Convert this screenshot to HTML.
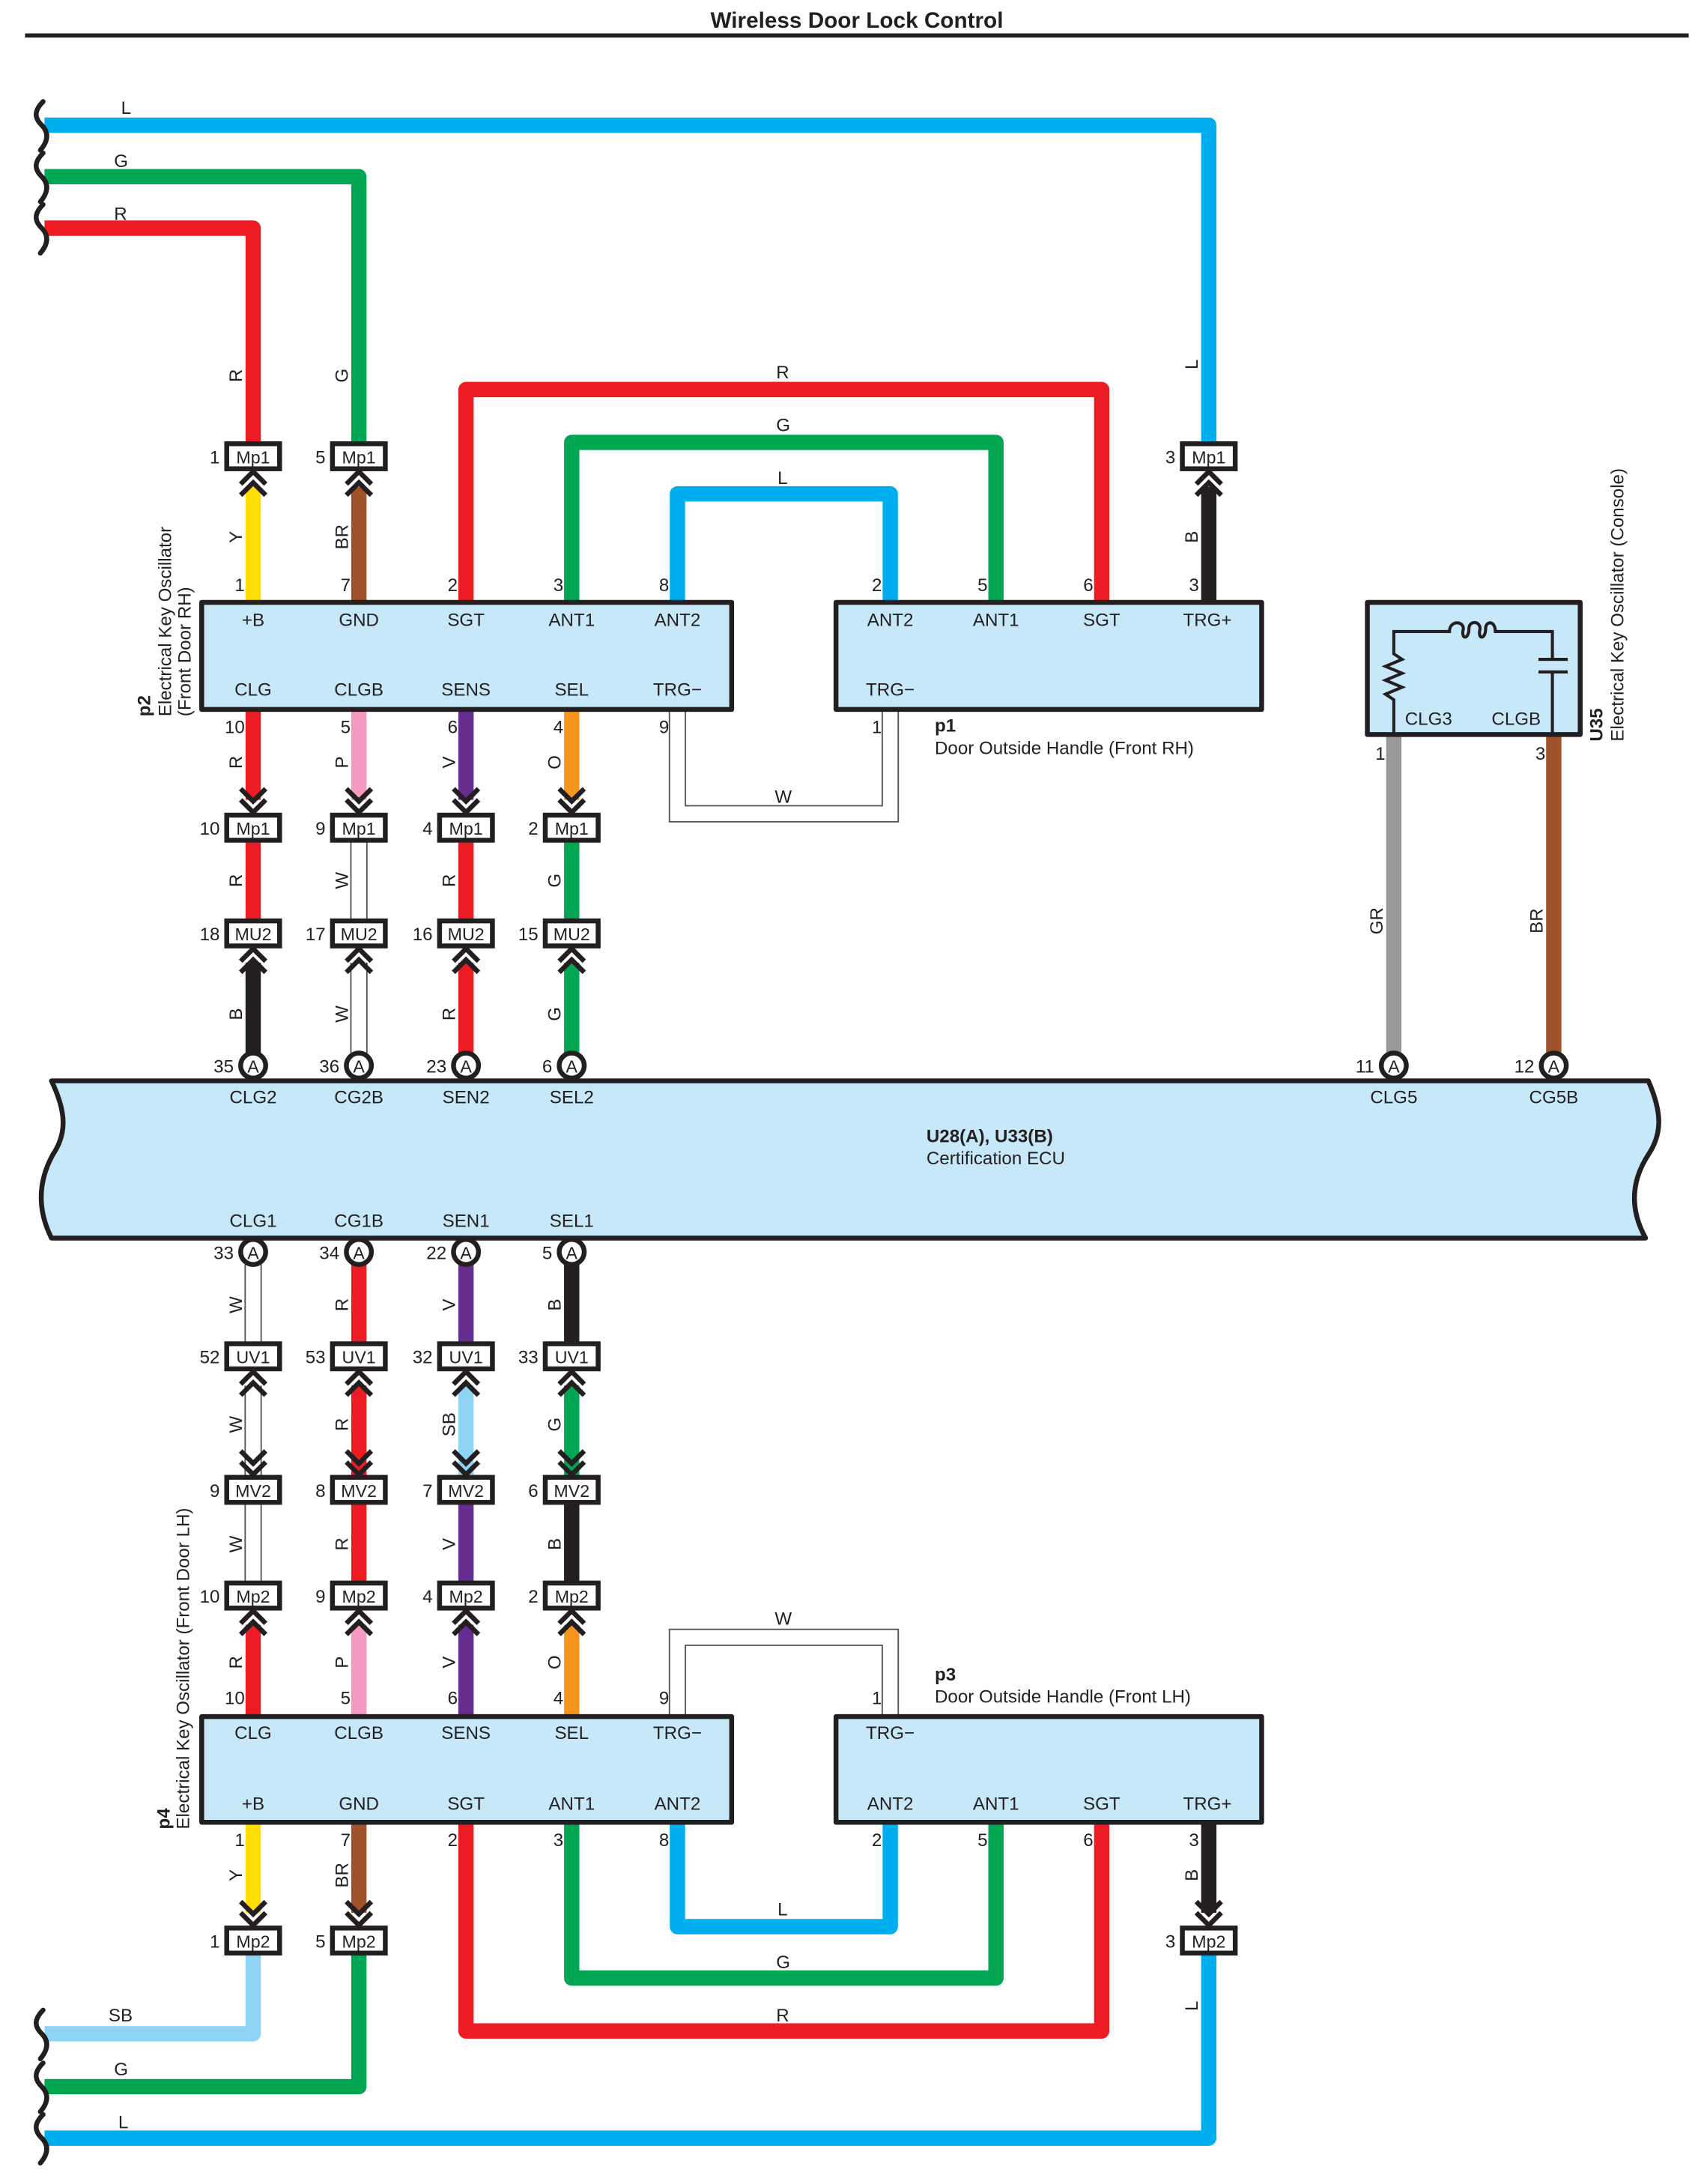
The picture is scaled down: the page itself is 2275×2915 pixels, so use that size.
<!DOCTYPE html>
<html><head><meta charset="utf-8"><style>
html,body{margin:0;padding:0;background:#fff}
svg{display:block}
text{font-family:"Liberation Sans",sans-serif;fill:#231f20}
</style></head><body>
<svg width="2275" height="2915" viewBox="0 0 1225 1570" preserveAspectRatio="none" xmlns="http://www.w3.org/2000/svg">
<defs>
<g id="cu"><path d="M-9,9 L0,0 L9,9 M-9,17 L0,8 L9,17" fill="none" stroke="#231f20" stroke-width="3.5"/></g>
<g id="cd"><path d="M-9,-9 L0,0 L9,-9 M-9,-17 L0,-8 L9,-17" fill="none" stroke="#231f20" stroke-width="3.5"/></g>
<g id="wv"><path d="M31,-17 C24,-10 25,-5 30,0 C35,5 35,11 29,18" fill="none" stroke="#231f20" stroke-width="3.5" stroke-linecap="round"/></g>
</defs>
<text x="616" y="20" font-size="16" font-weight="bold" text-anchor="middle">Wireless Door Lock Control</text>
<rect x="18" y="24" width="1196" height="3" fill="#231f20"/>

<g fill="none" stroke-width="11" stroke-linejoin="round">
<!-- top feeds -->
<path d="M32,90 H869 V320" stroke="#00aeef"/>
<path d="M32,127 H258 V320" stroke="#00a651"/>
<path d="M32,164 H182 V320" stroke="#ed1c24"/>
<path d="M182,350 V433" stroke="#ffde00"/>
<path d="M258,350 V433" stroke="#a0522d"/>
<path d="M869,350 V433" stroke="#231f20"/>
<!-- top loops -->
<path d="M335,433 V280 H792 V433" stroke="#ed1c24"/>
<path d="M411,433 V318 H716 V433" stroke="#00a651"/>
<path d="M487,433 V355 H640 V433" stroke="#00aeef"/>
<!-- p2 bottom -->
<path d="M182,510 V575" stroke="#ed1c24"/>
<path d="M258,510 V575" stroke="#f49ac1"/>
<path d="M335,510 V575" stroke="#662d91"/>
<path d="M411,510 V575" stroke="#f7941d"/>
<path d="M182,604 V662" stroke="#ed1c24"/>
<path d="M335,604 V662" stroke="#ed1c24"/>
<path d="M411,604 V662" stroke="#00a651"/>
<path d="M182,692 V757" stroke="#231f20"/>
<path d="M335,692 V757" stroke="#ed1c24"/>
<path d="M411,692 V757" stroke="#00a651"/>
<path d="M1002,528 V757" stroke="#999999"/>
<path d="M1117,528 V757" stroke="#a0522d"/>
<!-- below ECU -->
<path d="M258,909 V966" stroke="#ed1c24"/>
<path d="M335,909 V966" stroke="#662d91"/>
<path d="M411,909 V966" stroke="#231f20"/>
<path d="M258,996 V1061" stroke="#ed1c24"/>
<path d="M335,996 V1061" stroke="#8fd3f5"/>
<path d="M411,996 V1061" stroke="#00a651"/>
<path d="M258,1080 V1138" stroke="#ed1c24"/>
<path d="M335,1080 V1138" stroke="#662d91"/>
<path d="M411,1080 V1138" stroke="#231f20"/>
<path d="M182,1168 V1234" stroke="#ed1c24"/>
<path d="M258,1168 V1234" stroke="#f49ac1"/>
<path d="M335,1168 V1234" stroke="#662d91"/>
<path d="M411,1168 V1234" stroke="#f7941d"/>
<!-- p4 bottom -->
<path d="M182,1310 V1375" stroke="#ffde00"/>
<path d="M258,1310 V1375" stroke="#a0522d"/>
<path d="M869,1310 V1375" stroke="#231f20"/>
<path d="M335,1310 V1460 H792 V1310" stroke="#ed1c24"/>
<path d="M411,1310 V1422 H716 V1310" stroke="#00a651"/>
<path d="M487,1310 V1385 H640 V1310" stroke="#00aeef"/>
<path d="M182,1404 V1462 H32" stroke="#8fd3f5"/>
<path d="M258,1404 V1500 H32" stroke="#00a651"/>
<path d="M869,1404 V1537 H32" stroke="#00aeef"/>
</g>
<!-- white wires -->
<g fill="none" stroke-linejoin="miter">
<g stroke="#555" stroke-width="12.5">
<path d="M487,510 V585 H640 V510"/>
<path d="M487,1234 V1177 H640 V1234"/>
<path d="M258,604 V662 M258,692 V757 M182,909 V966 M182,996 V1061 M182,1080 V1138"/>
</g>
<g stroke="#fff" stroke-width="10.5">
<path d="M487,508 V585 H640 V508"/>
<path d="M487,1236 V1177 H640 V1236"/>
<path d="M258,602 V664 M258,690 V759 M182,907 V968 M182,994 V1063 M182,1078 V1140"/>
</g>
</g>

<!-- wavy breaks -->
<use href="#wv" x="0" y="90"/><use href="#wv" x="0" y="127"/><use href="#wv" x="0" y="164"/>
<use href="#wv" x="0" y="1462"/><use href="#wv" x="0" y="1500"/><use href="#wv" x="0" y="1537"/>

<!-- wire labels -->
<g font-size="13">
<text x="87" y="82">L</text><text x="82" y="120">G</text><text x="82" y="158">R</text>
<text x="558" y="272">R</text><text x="558" y="310">G</text><text x="559" y="348">L</text>
<text x="557" y="577">W</text><text x="557" y="1168">W</text>
<text x="559" y="1377">L</text><text x="558" y="1415">G</text><text x="558" y="1453">R</text>
<text x="78" y="1453">SB</text><text x="82" y="1492">G</text><text x="85" y="1530">L</text>
</g>
<g font-size="13" text-anchor="middle">
<text transform="translate(174,270) rotate(-90)">R</text>
<text transform="translate(250,270) rotate(-90)">G</text>
<text transform="translate(861,262) rotate(-90)">L</text>
<text transform="translate(174,386) rotate(-90)">Y</text>
<text transform="translate(250,386) rotate(-90)">BR</text>
<text transform="translate(861,386) rotate(-90)">B</text>
<text transform="translate(174,548) rotate(-90)">R</text>
<text transform="translate(250,548) rotate(-90)">P</text>
<text transform="translate(327,548) rotate(-90)">V</text>
<text transform="translate(403,548) rotate(-90)">O</text>
<text transform="translate(174,633) rotate(-90)">R</text>
<text transform="translate(250,633) rotate(-90)">W</text>
<text transform="translate(327,633) rotate(-90)">R</text>
<text transform="translate(403,633) rotate(-90)">G</text>
<text transform="translate(174,729) rotate(-90)">B</text>
<text transform="translate(250,729) rotate(-90)">W</text>
<text transform="translate(327,729) rotate(-90)">R</text>
<text transform="translate(403,729) rotate(-90)">G</text>
<text transform="translate(994,662) rotate(-90)">GR</text>
<text transform="translate(1109,662) rotate(-90)">BR</text>
<text transform="translate(174,938) rotate(-90)">W</text>
<text transform="translate(250,938) rotate(-90)">R</text>
<text transform="translate(327,938) rotate(-90)">V</text>
<text transform="translate(403,938) rotate(-90)">B</text>
<text transform="translate(174,1024) rotate(-90)">W</text>
<text transform="translate(250,1024) rotate(-90)">R</text>
<text transform="translate(327,1024) rotate(-90)">SB</text>
<text transform="translate(403,1024) rotate(-90)">G</text>
<text transform="translate(174,1110) rotate(-90)">W</text>
<text transform="translate(250,1110) rotate(-90)">R</text>
<text transform="translate(327,1110) rotate(-90)">V</text>
<text transform="translate(403,1110) rotate(-90)">B</text>
<text transform="translate(174,1195) rotate(-90)">R</text>
<text transform="translate(250,1195) rotate(-90)">P</text>
<text transform="translate(327,1195) rotate(-90)">V</text>
<text transform="translate(403,1195) rotate(-90)">O</text>
<text transform="translate(174,1348) rotate(-90)">Y</text>
<text transform="translate(250,1348) rotate(-90)">BR</text>
<text transform="translate(861,1348) rotate(-90)">B</text>
<text transform="translate(861,1442) rotate(-90)">L</text>
</g>

<!-- component boxes -->
<g fill="#c7e8f8" stroke="#231f20" stroke-width="3.5" stroke-linejoin="round">
<rect x="145" y="433" width="381" height="77"/>
<rect x="601" y="433" width="306" height="77"/>
<rect x="983" y="433" width="153" height="95"/>
<rect x="145" y="1234" width="381" height="76"/>
<rect x="601" y="1234" width="306" height="76"/>
<path d="M37,777 H1185 C1195,800 1195,815 1185,830 C1172,850 1172,870 1183,890 H37 C27,870 27,850 38,830 C48,815 48,800 37,777 Z"/>
</g>
<!-- U35 circuit -->
<g fill="none" stroke="#231f20" stroke-width="2.2">
<path d="M1002,528 V503 L996,499 L1008,494 L996,489 L1008,484 L996,479 L1008,474 L1002,470 V454 H1042 C1042,446 1052,446 1052,452 C1050,460 1056,460 1056,452 C1056,446 1064,446 1064,452 C1062,460 1068,460 1068,452 C1068,446 1075,446 1075,454 H1116 V474 M1106,474 H1127 M1106,483 H1127 M1116,483 V528"/>
</g>

<!-- pin labels -->
<g font-size="13" text-anchor="middle">
<text x="182" y="450">+B</text><text x="258" y="450">GND</text><text x="335" y="450">SGT</text><text x="411" y="450">ANT1</text><text x="487" y="450">ANT2</text>
<text x="182" y="500">CLG</text><text x="258" y="500">CLGB</text><text x="335" y="500">SENS</text><text x="411" y="500">SEL</text><text x="487" y="500">TRG−</text>
<text x="640" y="450">ANT2</text><text x="716" y="450">ANT1</text><text x="792" y="450">SGT</text><text x="868" y="450">TRG+</text>
<text x="640" y="500">TRG−</text>
<text x="1027" y="521">CLG3</text><text x="1090" y="521">CLGB</text>
<text x="182" y="793">CLG2</text><text x="258" y="793">CG2B</text><text x="335" y="793">SEN2</text><text x="411" y="793">SEL2</text>
<text x="1002" y="793">CLG5</text><text x="1117" y="793">CG5B</text>
<text x="182" y="882">CLG1</text><text x="258" y="882">CG1B</text><text x="335" y="882">SEN1</text><text x="411" y="882">SEL1</text>
<text x="182" y="1250">CLG</text><text x="258" y="1250">CLGB</text><text x="335" y="1250">SENS</text><text x="411" y="1250">SEL</text><text x="487" y="1250">TRG−</text>
<text x="182" y="1301">+B</text><text x="258" y="1301">GND</text><text x="335" y="1301">SGT</text><text x="411" y="1301">ANT1</text><text x="487" y="1301">ANT2</text>
<text x="640" y="1250">TRG−</text>
<text x="640" y="1301">ANT2</text><text x="716" y="1301">ANT1</text><text x="792" y="1301">SGT</text><text x="868" y="1301">TRG+</text>
</g>
<!-- pin numbers -->
<g font-size="13" text-anchor="end">
<text x="176" y="425">1</text><text x="252" y="425">7</text><text x="329" y="425">2</text><text x="405" y="425">3</text><text x="481" y="425">8</text>
<text x="634" y="425">2</text><text x="710" y="425">5</text><text x="786" y="425">6</text><text x="862" y="425">3</text>
<text x="176" y="527">10</text><text x="252" y="527">5</text><text x="329" y="527">6</text><text x="405" y="527">4</text><text x="481" y="527">9</text><text x="634" y="527">1</text>
<text x="996" y="546">1</text><text x="1111" y="546">3</text>
<text x="176" y="1225">10</text><text x="252" y="1225">5</text><text x="329" y="1225">6</text><text x="405" y="1225">4</text><text x="481" y="1225">9</text><text x="634" y="1225">1</text>
<text x="176" y="1327">1</text><text x="252" y="1327">7</text><text x="329" y="1327">2</text><text x="405" y="1327">3</text><text x="481" y="1327">8</text>
<text x="634" y="1327">2</text><text x="710" y="1327">5</text><text x="786" y="1327">6</text><text x="862" y="1327">3</text>
</g>

<!-- component titles -->
<g font-size="13">
<text transform="translate(108,515) rotate(-90)" font-weight="bold">p2</text>
<text transform="translate(123,515) rotate(-90)">Electrical Key Oscillator</text>
<text transform="translate(137,515) rotate(-90)">(Front Door RH)</text>
<text x="672" y="526" font-weight="bold">p1</text>
<text x="672" y="542">Door Outside Handle (Front RH)</text>
<text transform="translate(1152,533) rotate(-90)" font-weight="bold">U35</text>
<text transform="translate(1167,533) rotate(-90)">Electrical Key Oscillator (Console)</text>
<text x="666" y="821" font-weight="bold">U28(A), U33(B)</text>
<text x="666" y="837">Certification ECU</text>
<text x="672" y="1208" font-weight="bold">p3</text>
<text x="672" y="1224">Door Outside Handle (Front LH)</text>
<text transform="translate(122,1315) rotate(-90)" font-weight="bold">p4</text>
<text transform="translate(136,1315) rotate(-90)">Electrical Key Oscillator (Front Door LH)</text>
</g>

<!-- connectors -->
<g id="conns">
<g fill="#fff" stroke="#231f20" stroke-width="3.5">
<rect x="163" y="319" width="38" height="18"/><rect x="239" y="319" width="38" height="18"/><rect x="850" y="319" width="38" height="18"/>
<rect x="163" y="586" width="38" height="18"/><rect x="239" y="586" width="38" height="18"/><rect x="316" y="586" width="38" height="18"/><rect x="392" y="586" width="38" height="18"/>
<rect x="163" y="662" width="38" height="18"/><rect x="239" y="662" width="38" height="18"/><rect x="316" y="662" width="38" height="18"/><rect x="392" y="662" width="38" height="18"/>
<rect x="163" y="966" width="38" height="18"/><rect x="239" y="966" width="38" height="18"/><rect x="316" y="966" width="38" height="18"/><rect x="392" y="966" width="38" height="18"/>
<rect x="163" y="1062" width="38" height="18"/><rect x="239" y="1062" width="38" height="18"/><rect x="316" y="1062" width="38" height="18"/><rect x="392" y="1062" width="38" height="18"/>
<rect x="163" y="1138" width="38" height="18"/><rect x="239" y="1138" width="38" height="18"/><rect x="316" y="1138" width="38" height="18"/><rect x="392" y="1138" width="38" height="18"/>
<rect x="163" y="1386" width="38" height="18"/><rect x="239" y="1386" width="38" height="18"/><rect x="850" y="1386" width="38" height="18"/>
<circle cx="182" cy="766" r="9"/><circle cx="258" cy="766" r="9"/><circle cx="335" cy="766" r="9"/><circle cx="411" cy="766" r="9"/><circle cx="1002" cy="766" r="9"/><circle cx="1117" cy="766" r="9"/>
<circle cx="182" cy="900" r="9"/><circle cx="258" cy="900" r="9"/><circle cx="335" cy="900" r="9"/><circle cx="411" cy="900" r="9"/>
</g>
<g font-size="12.5" text-anchor="middle">
<text x="182" y="333">Mp1</text><text x="258" y="333">Mp1</text><text x="869" y="333">Mp1</text>
<text x="182" y="600">Mp1</text><text x="258" y="600">Mp1</text><text x="335" y="600">Mp1</text><text x="411" y="600">Mp1</text>
<text x="182" y="676">MU2</text><text x="258" y="676">MU2</text><text x="335" y="676">MU2</text><text x="411" y="676">MU2</text>
<text x="182" y="980">UV1</text><text x="258" y="980">UV1</text><text x="335" y="980">UV1</text><text x="411" y="980">UV1</text>
<text x="182" y="1076">MV2</text><text x="258" y="1076">MV2</text><text x="335" y="1076">MV2</text><text x="411" y="1076">MV2</text>
<text x="182" y="1152">Mp2</text><text x="258" y="1152">Mp2</text><text x="335" y="1152">Mp2</text><text x="411" y="1152">Mp2</text>
<text x="182" y="1400">Mp2</text><text x="258" y="1400">Mp2</text><text x="869" y="1400">Mp2</text>
<text x="182" y="771">A</text><text x="258" y="771">A</text><text x="335" y="771">A</text><text x="411" y="771">A</text><text x="1002" y="771">A</text><text x="1117" y="771">A</text>
<text x="182" y="905">A</text><text x="258" y="905">A</text><text x="335" y="905">A</text><text x="411" y="905">A</text>
</g>
<g font-size="13" text-anchor="end">
<text x="158" y="333">1</text><text x="234" y="333">5</text><text x="845" y="333">3</text>
<text x="158" y="600">10</text><text x="234" y="600">9</text><text x="311" y="600">4</text><text x="387" y="600">2</text>
<text x="158" y="676">18</text><text x="234" y="676">17</text><text x="311" y="676">16</text><text x="387" y="676">15</text>
<text x="168" y="771">35</text><text x="244" y="771">36</text><text x="321" y="771">23</text><text x="397" y="771">6</text><text x="988" y="771">11</text><text x="1103" y="771">12</text>
<text x="168" y="905">33</text><text x="244" y="905">34</text><text x="321" y="905">22</text><text x="397" y="905">5</text>
<text x="158" y="980">52</text><text x="234" y="980">53</text><text x="311" y="980">32</text><text x="387" y="980">33</text>
<text x="158" y="1076">9</text><text x="234" y="1076">8</text><text x="311" y="1076">7</text><text x="387" y="1076">6</text>
<text x="158" y="1152">10</text><text x="234" y="1152">9</text><text x="311" y="1152">4</text><text x="387" y="1152">2</text>
<text x="158" y="1400">1</text><text x="234" y="1400">5</text><text x="845" y="1400">3</text>
</g>
<!-- chevrons -->
<use href="#cu" x="182" y="339"/><use href="#cu" x="258" y="339"/><use href="#cu" x="869" y="339"/>
<use href="#cd" x="182" y="584"/><use href="#cd" x="258" y="584"/><use href="#cd" x="335" y="584"/><use href="#cd" x="411" y="584"/>
<use href="#cu" x="182" y="682"/><use href="#cu" x="258" y="682"/><use href="#cu" x="335" y="682"/><use href="#cu" x="411" y="682"/>
<use href="#cu" x="182" y="986"/><use href="#cu" x="258" y="986"/><use href="#cu" x="335" y="986"/><use href="#cu" x="411" y="986"/>
<use href="#cd" x="182" y="1060"/><use href="#cd" x="258" y="1060"/><use href="#cd" x="335" y="1060"/><use href="#cd" x="411" y="1060"/>
<use href="#cu" x="182" y="1158"/><use href="#cu" x="258" y="1158"/><use href="#cu" x="335" y="1158"/><use href="#cu" x="411" y="1158"/>
<use href="#cd" x="182" y="1384"/><use href="#cd" x="258" y="1384"/><use href="#cd" x="869" y="1384"/>
</g>
</svg>
</body></html>
